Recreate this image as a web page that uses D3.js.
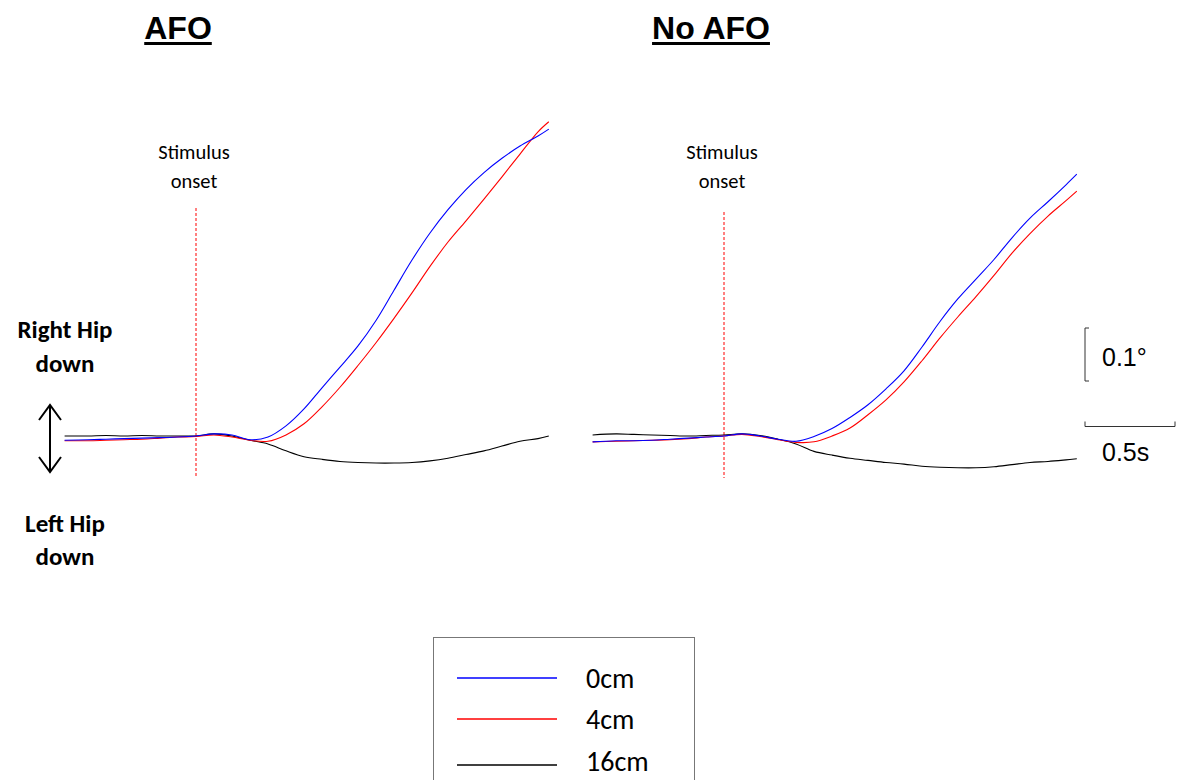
<!DOCTYPE html>
<html>
<head>
<meta charset="utf-8">
<script src="https://cdn.jsdelivr.net/npm/d3@7"></script>
<style>
  html, body { margin: 0; padding: 0; background: #fff; }
  svg { display: block; }
</style>
</head>
<body>
<svg id="chart" width="1178" height="780"></svg>
<script>
// Time relative to stimulus onset (s)
const time = [-0.73, -0.6, -0.5, -0.4, -0.3, -0.2, -0.1, 0, 0.1, 0.2, 0.3, 0.4, 0.5, 0.6,
              0.7, 0.8, 0.9, 1.0, 1.1, 1.2, 1.3, 1.4, 1.5, 1.6, 1.7, 1.8, 1.9, 1.96];

// Pelvic obliquity (deg), positive = right hip down
const afo0cm  = [-0.008, -0.007, -0.006, -0.005, -0.004, -0.003, -0.002, 0.000, 0.004, 0.002,
                 -0.007, -0.002, 0.019, 0.051, 0.091, 0.130, 0.170, 0.218, 0.275, 0.332,
                 0.383, 0.427, 0.465, 0.497, 0.524, 0.547, 0.566, 0.579];
const afo4cm  = [-0.009, -0.009, -0.008, -0.007, -0.006, -0.004, -0.002, -0.001, 0.002, -0.002,
                 -0.008, -0.010, 0.002, 0.023, 0.055, 0.092, 0.133, 0.176, 0.222, 0.270,
                 0.320, 0.366, 0.406, 0.447, 0.489, 0.532, 0.574, 0.593];
const afo16cm = [0.000, 0.000, 0.001, 0.000, 0.001, 0.000, 0.000, 0.000, 0.004, 0.000,
                 -0.008, -0.015, -0.028, -0.039, -0.044, -0.048, -0.050, -0.051, -0.051, -0.050,
                 -0.047, -0.042, -0.035, -0.028, -0.019, -0.010, -0.005, 0.000];

const noAfo0cm  = [-0.011, -0.009, -0.009, -0.008, -0.006, -0.004, -0.002, 0.000, 0.004, 0.000,
                   -0.006, -0.010, -0.001, 0.014, 0.035, 0.059, 0.089, 0.123, 0.168, 0.216,
                   0.259, 0.296, 0.333, 0.374, 0.411, 0.442, 0.474, 0.494];
const noAfo4cm  = [-0.011, -0.010, -0.009, -0.008, -0.007, -0.005, -0.002, 0.000, 0.003, -0.001,
                   -0.007, -0.012, -0.011, 0.000, 0.015, 0.040, 0.068, 0.102, 0.142, 0.185,
                   0.225, 0.263, 0.303, 0.345, 0.382, 0.415, 0.444, 0.462];
const noAfo16cm = [0.002, 0.004, 0.003, 0.002, 0.001, 0.000, 0.001, 0.002, 0.004, 0.001,
                   -0.006, -0.015, -0.029, -0.036, -0.042, -0.046, -0.050, -0.053, -0.057, -0.059,
                   -0.060, -0.060, -0.058, -0.054, -0.050, -0.048, -0.045, -0.043];

const panelTitles = ["AFO", "No AFO"];
const conditions = ["0cm", "4cm", "16cm"];
const conditionColors = ["#0000ff", "#ff0000", "#000000"];

const panels = [
  { title: panelTitles[0], series: [afo0cm, afo4cm, afo16cm] },
  { title: panelTitles[1], series: [noAfo0cm, noAfo4cm, noAfo16cm] }
];

const svg = d3.select("#chart");
const sansBody = "Carlito, Lato, 'Open Sans', sans-serif";
const arial = "'Liberation Sans', Arial, sans-serif";

// Shared vertical scale: 0.1 deg spans 53 px
const y = d3.scaleLinear().domain([0, 0.1]).range([436, 383]);

// Each panel gets its own horizontal scale with identical span
const onsetX = [196, 724];
const pxPerSec = 180;

panels.forEach((p, i) => {
  const x = d3.scaleLinear()
    .domain([-0.73, 1.96])
    .range([onsetX[i] - 0.73 * pxPerSec, onsetX[i] + 1.96 * pxPerSec]);
  p.x = x;

  const g = svg.append("g");

  // title, underlined
  const cx = i === 0 ? 178 : 711;
  const t = g.append("text")
    .attr("x", cx).attr("y", 39)
    .attr("text-anchor", "middle")
    .style("font-family", arial)
    .style("font-weight", "bold")
    .style("font-size", "32px")
    .text(p.title);
  const bb = t.node().getBBox();
  g.append("rect")
    .attr("x", bb.x).attr("y", 42)
    .attr("width", bb.width).attr("height", 3)
    .attr("fill", "#000");

  // stimulus onset marker
  const ox = x(0);
  g.append("text")
    .attr("x", ox - 2).attr("y", 159)
    .attr("text-anchor", "middle")
    .style("font-family", sansBody)
    .style("font-size", "20.5px")
    .text("Stimulus");
  g.append("text")
    .attr("x", ox - 2).attr("y", 188)
    .attr("text-anchor", "middle")
    .style("font-family", sansBody)
    .style("font-size", "20.5px")
    .text("onset");
  g.append("line")
    .attr("x1", ox).attr("x2", ox)
    .attr("y1", i === 0 ? 208 : 212).attr("y2", 478)
    .attr("stroke", "#ff0000")
    .attr("stroke-width", 1)
    .attr("stroke-dasharray", "3,2");

  // traces
  const line = d3.line()
    .x((d, k) => x(time[k]))
    .y(d => y(d))
    .curve(d3.curveCatmullRom.alpha(0.5));

  // draw black first so coloured traces sit on top in the flat section
  [2, 1, 0].forEach(s => {
    g.append("path")
      .datum(p.series[s])
      .attr("d", line)
      .attr("fill", "none")
      .attr("stroke", conditionColors[s])
      .attr("stroke-width", 1.1);
  });
});

// Side labels and arrow
const sideLabels = [["Right Hip", 338], ["down", 372], ["Left Hip", 532], ["down", 565]];
svg.selectAll("text.side")
  .data(sideLabels)
  .enter().append("text")
  .attr("class", "side")
  .attr("x", 65).attr("y", d => d[1])
  .attr("text-anchor", "middle")
  .style("font-family", sansBody)
  .style("font-weight", "bold")
  .style("font-size", "25px")
  .text(d => d[0]);

const arrow = svg.append("g")
  .attr("fill", "none").attr("stroke", "#000").attr("stroke-width", 2);
arrow.append("line").attr("x1", 50).attr("x2", 50).attr("y1", 405).attr("y2", 472);
arrow.append("polyline").attr("points", "39,420 50,405 61,420");
arrow.append("polyline").attr("points", "39,457 50,472 61,457");

// Scale bars derived from the same scales
const xs = panels[1].x;
const barX = 1085;
const vTop = y(0.1) - 55, vBot = y(0) - 55;
const sb = svg.append("g").attr("fill", "none").attr("stroke", "#333").attr("stroke-width", 1);
sb.append("path")
  .attr("d", `M${barX + 4},${vTop}H${barX}V${vBot}H${barX + 4}`);
svg.append("text")
  .attr("x", 1102).attr("y", 366)
  .style("font-family", arial)
  .style("font-size", "25px")
  .text("0.1°");

const hLen = xs(0.5) - xs(0);
const hY = 426.5;
sb.append("path")
  .attr("d", `M${barX},${hY - 5}V${hY}H${barX + hLen}V${hY - 5}`);
svg.append("text")
  .attr("x", 1102).attr("y", 461)
  .style("font-family", arial)
  .style("font-size", "25px")
  .text("0.5s");

// Legend
const legend = svg.append("g");
legend.append("rect")
  .attr("x", 433.5).attr("y", 637.5)
  .attr("width", 261).attr("height", 160)
  .attr("fill", "#fff")
  .attr("stroke", "#777").attr("stroke-width", 1);
const legendY = [678, 719, 765];
const legendTextY = [688, 729, 771];
conditions.forEach((c, k) => {
  legend.append("line")
    .attr("x1", 457).attr("x2", 557)
    .attr("y1", legendY[k]).attr("y2", legendY[k])
    .attr("stroke", conditionColors[k])
    .attr("stroke-width", 1.5);
  legend.append("text")
    .attr("x", 586).attr("y", legendTextY[k])
    .style("font-family", sansBody)
    .style("font-size", "28px")
    .text(c);
});
</script>
</body>
</html>
